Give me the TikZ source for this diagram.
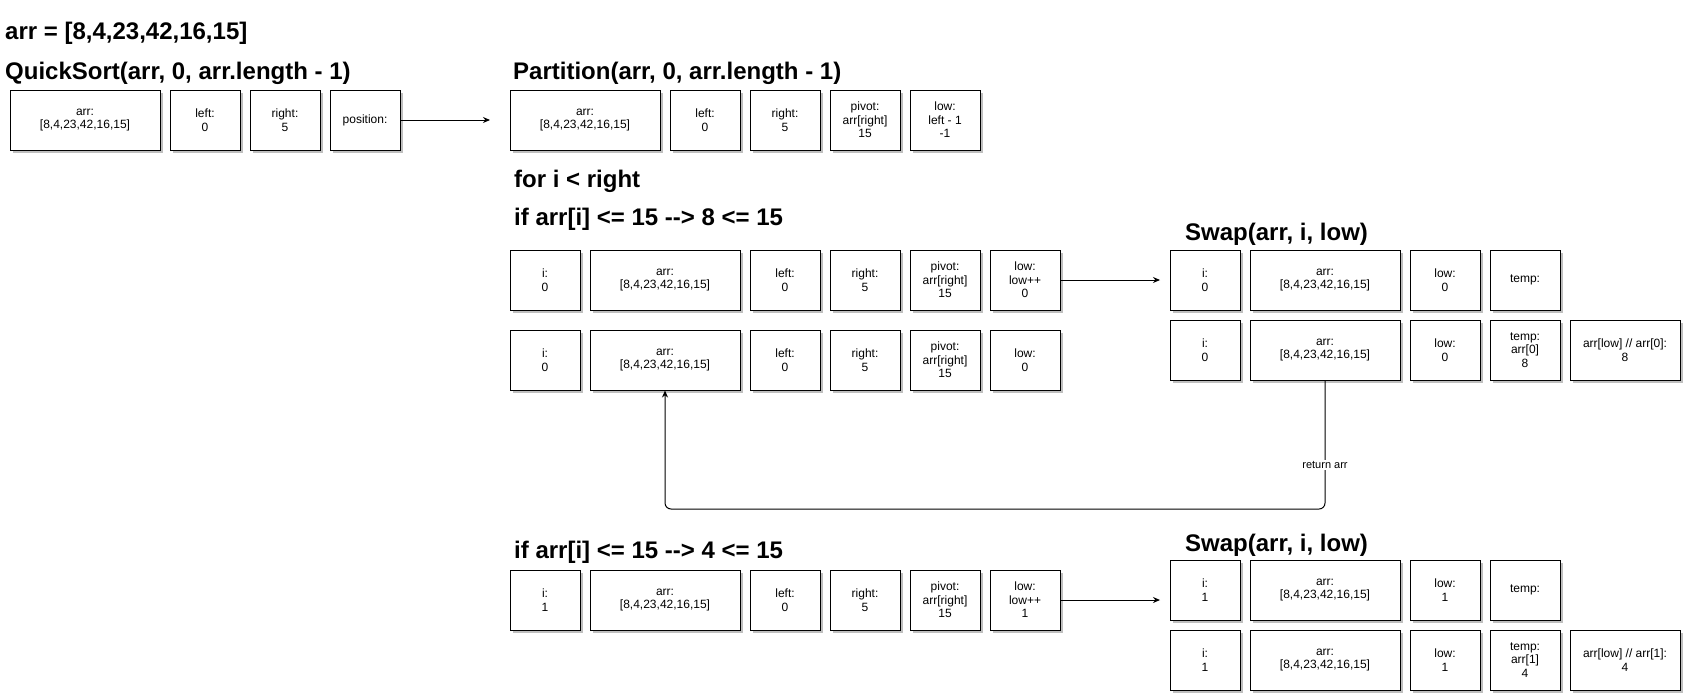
\documentclass[tikz,border=0pt]{standalone}
\usepackage{fontspec}
\setmainfont{Liberation Sans}
\usepackage{tikz}
\usetikzlibrary{shadows,arrows.meta}
\definecolor{qsline}{HTML}{000000}
\definecolor{qsshadow}{HTML}{BFBFBF}
\definecolor{qspaper}{HTML}{FFFFFF}

\begin{document}
\begin{tikzpicture}[
        x=1pt, y=-1pt,
        every node/.style={font=\fontsize{12}{13.5}\selectfont},
        v/.style={
          draw=qsline, line width=1pt,
          fill=qspaper, align=center, inner sep=0pt,
          minimum width=70pt, minimum height=60pt,
          general shadow={fill=qsshadow, shadow xshift=3pt, shadow yshift=-3pt},
        },
        a/.style={v, minimum width=150pt},
        r/.style={v, minimum width=110pt},
        h/.style={anchor=base west, inner sep=0pt, font=\fontsize{24}{28}\selectfont\bfseries},
        go/.style={-{Stealth[length=7pt,width=6pt]}, draw=qsline, line width=1pt},
        lbl/.style={fill=qspaper, inner sep=1pt, font=\fontsize{11}{13}\selectfont},
      ]
      \useasboundingbox[fill=qspaper] (0,0) rectangle (1685,694);

      % headings
      \node[h] (hdata) at (5,39)    {arr = [8,4,23,42,16,15]};
      \node[h] (hqs)   at (5,79)    {QuickSort(arr, 0, arr.length - 1)};
      \node[h] (hpart) at (513,79)  {Partition(arr, 0, arr.length - 1)};
      \node[h] (hfor)  at (514,187) {for i < right};
      \node[h] (hif1)  at (514,225) {if arr[i] <= 15 -{}-{}> 8 <= 15};
      \node[h] (hsw1)  at (1185,240) {Swap(arr, i, low)};
      \node[h] (hif2)  at (514,558) {if arr[i] <= 15 -{}-{}> 4 <= 15};
      \node[h] (hsw2)  at (1185,551) {Swap(arr, i, low)};

      % quicksort call
      \node[a] (qarr)   at (85,120)  {arr:\\{[8,4,23,42,16,15]}};
      \node[v] (qleft)  at (205,120) {left:\\0};
      \node[v] (qright) at (285,120) {right:\\5};
      \node[v] (qpos)   at (365,120) {position:};
      \coordinate (qend) at (490,120);
      \draw[go] (qpos.east) -- (qend);

      % partition call
      \node[a] (parr)   at (585,120) {arr:\\{[8,4,23,42,16,15]}};
      \node[v] (pleft)  at (705,120) {left:\\0};
      \node[v] (pright) at (785,120) {right:\\5};
      \node[v] (ppivot) at (865,120) {pivot:\\arr[right]\\15};
      \node[v] (plow)   at (945,120) {low:\\left - 1\\-1};

      % first pass, i = 0
      \node[v] (ai)     at (545,280)  {i:\\0};
      \node[a] (aarr)   at (665,280)  {arr:\\{[8,4,23,42,16,15]}};
      \node[v] (aleft)  at (785,280)  {left:\\0};
      \node[v] (aright) at (865,280)  {right:\\5};
      \node[v] (apivot) at (945,280)  {pivot:\\arr[right]\\15};
      \node[v] (alow)   at (1025,280) {low:\\low++\\0};
      \coordinate (aend) at (1160,280);
      \draw[go] (alow.east) -- (aend);

      \node[v] (bi)     at (545,360)  {i:\\0};
      \node[a] (barr)   at (665,360)  {arr:\\{[8,4,23,42,16,15]}};
      \node[v] (bleft)  at (785,360)  {left:\\0};
      \node[v] (bright) at (865,360)  {right:\\5};
      \node[v] (bpivot) at (945,360)  {pivot:\\arr[right]\\15};
      \node[v] (blow)   at (1025,360) {low:\\0};

      % swap, i = 0
      \node[v] (s1i)    at (1205,280) {i:\\0};
      \node[a] (s1arr)  at (1325,280) {arr:\\{[8,4,23,42,16,15]}};
      \node[v] (s1low)  at (1445,280) {low:\\0};
      \node[v] (s1temp) at (1525,280) {temp:};

      \node[v] (s2i)    at (1205,350) {i:\\0};
      \node[a] (s2arr)  at (1325,350) {arr:\\{[8,4,23,42,16,15]}};
      \node[v] (s2low)  at (1445,350) {low:\\0};
      \node[v] (s2temp) at (1525,350) {temp:\\arr[0]\\8};
      \node[r] (s2res)  at (1625,350) {arr[low] // arr[0]:\\8};

      \coordinate (rb) at (1000,509);
      \draw[go, rounded corners=6pt] (s2arr.south) |- (rb) -| (barr.south);
      \node[lbl] (ret) at (1325,465) {return arr};

      % second pass, i = 1
      \node[v] (ci)     at (545,600)  {i:\\1};
      \node[a] (carr)   at (665,600)  {arr:\\{[8,4,23,42,16,15]}};
      \node[v] (cleft)  at (785,600)  {left:\\0};
      \node[v] (cright) at (865,600)  {right:\\5};
      \node[v] (cpivot) at (945,600)  {pivot:\\arr[right]\\15};
      \node[v] (clow)   at (1025,600) {low:\\low++\\1};
      \coordinate (cend) at (1160,600);
      \draw[go] (clow.east) -- (cend);

      % swap, i = 1
      \node[v] (s3i)    at (1205,590) {i:\\1};
      \node[a] (s3arr)  at (1325,590) {arr:\\{[8,4,23,42,16,15]}};
      \node[v] (s3low)  at (1445,590) {low:\\1};
      \node[v] (s3temp) at (1525,590) {temp:};

      \node[v] (s4i)    at (1205,660) {i:\\1};
      \node[a] (s4arr)  at (1325,660) {arr:\\{[8,4,23,42,16,15]}};
      \node[v] (s4low)  at (1445,660) {low:\\1};
      \node[v] (s4temp) at (1525,660) {temp:\\arr[1]\\4};
      \node[r] (s4res)  at (1625,660) {arr[low] // arr[1]:\\4};
    \end{tikzpicture}
\end{document}
